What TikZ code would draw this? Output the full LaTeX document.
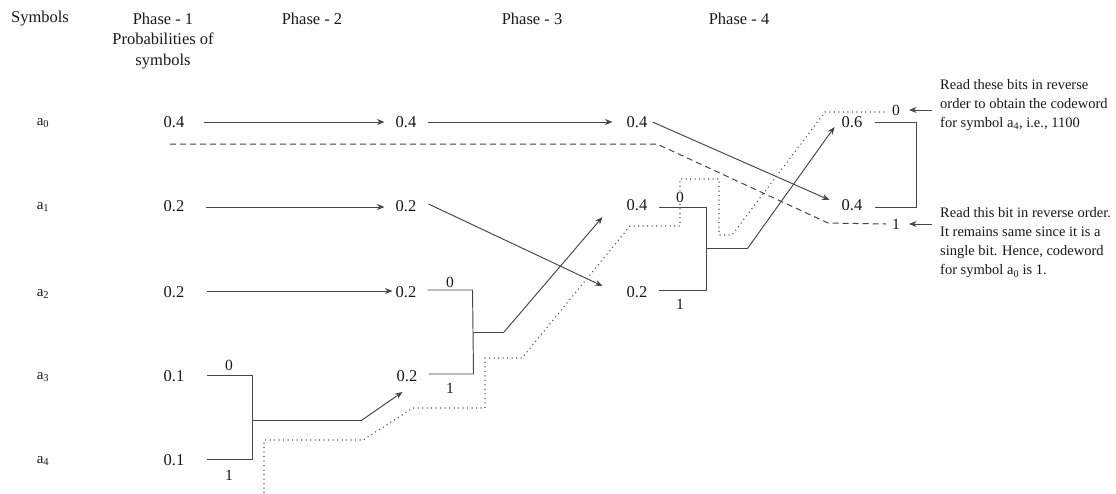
\documentclass[tikz,border=0pt]{standalone}
\usepackage{fontspec}
\setmainfont{Liberation Serif}
\usetikzlibrary{arrows.meta,calc,backgrounds}
\definecolor{lc}{RGB}{70,70,70}
\definecolor{txt}{RGB}{25,25,25}
\begin{document}
\begin{tikzpicture}[x=1pt,y=-1pt,
  every node/.style={inner sep=0pt, text=txt},
  hdr/.style={font=\fontsize{16.5}{20.5}\selectfont, align=center},
  sym/.style={font=\fontsize{15}{18}\selectfont},
  val/.style={font=\fontsize{16.5}{20}\selectfont},
  bit/.style={font=\fontsize{15.5}{18}\selectfont, fill=white, inner sep=1pt},
  note/.style={font=\fontsize{14.5}{19.2}\selectfont, align=left, anchor=north west},
  ln/.style={draw=lc, line width=0.95pt},
  arr/.style={ln, -{Stealth[length=7.5pt,width=6pt]}},
  dotp/.style={draw=lc, line width=1.1pt, dash pattern=on 1pt off 3.5pt},
  dshp/.style={draw=lc, line width=1pt, dash pattern=on 6pt off 4pt},
]
\useasboundingbox (0,0) rectangle (1116,493);

% headers
\node[hdr] (hs) at (40,19) {Symbols};
\node[hdr] (h1) at (163,41) {Phase - 1\\Probabilities of\\symbols};
\node[hdr] (h2) at (312,19) {Phase - 2};
\node[hdr] (h3) at (532,19) {Phase - 3};
\node[hdr] (h4) at (739,19) {Phase - 4};

% symbols
\node[sym] (s0) at (43,123) {a\textsubscript{0}};
\node[sym] (s1) at (43,207) {a\textsubscript{1}};
\node[sym] (s2) at (43,294) {a\textsubscript{2}};
\node[sym] (s3) at (43,377) {a\textsubscript{3}};
\node[sym] (s4) at (43,461) {a\textsubscript{4}};

% phase 1
\node[val] (p1a) at (174,122) {0.4};
\node[val] (p1b) at (174,206) {0.2};
\node[val] (p1c) at (174,292) {0.2};
\node[val] (p1d) at (174,376) {0.1};
\node[val] (p1e) at (174,460) {0.1};
% phase 2
\node[val] (p2a) at (406,122) {0.4};
\node[val] (p2b) at (406,206) {0.2};
\node[val] (p2c) at (406,292) {0.2};
\node[val] (p2d) at (407,376) {0.2};
% phase 3
\node[val] (p3a) at (637,122) {0.4};
\node[val] (p3b) at (637,205) {0.4};
\node[val] (p3c) at (637,292) {0.2};
% phase 4
\node[val] (p4a) at (852,122) {0.6};
\node[val] (p4b) at (852,205) {0.4};

% bits
\node[bit] (b1a) at (229,365) {0};
\node[bit] (b1b) at (229,475) {1};
\node[bit] (b2a) at (450,282) {0};
\node[bit] (b2b) at (450,388) {1};
\node[bit] (b3a) at (680,197) {0};
\node[bit] (b3b) at (680,304) {1};
\node[bit] (b4a) at (896,110) {0};
\node[bit] (b4b) at (896,224) {1};

% notes
\node[note] (t1) at (940,79) {Read these bits in reverse\\order to obtain the codeword\\for symbol a\textsubscript{4}, i.e., 1100};
\node[note] (t2) at (940,207) {Read this bit in reverse order.\\It remains same since it is a\\single bit. Hence, codeword\\for symbol a\textsubscript{0} is 1.};

% straight arrows
\draw[arr] ($(p1a.east)+(19,0)$) -- ($(p2a.west)+(-11,0)$);
\draw[arr] ($(p2a.east)+(11,0)$) -- ($(p3a.west)+(-14,0)$);
\draw[arr] ($(p1b.east)+(21,1)$) -- ($(p2b.west)+(-11,1)$);
\draw[arr] ($(p1c.east)+(22,-1)$) -- ($(p2c.west)+(-3,-1)$);
\draw[arr] ($(p3a.east)+(5,0)$) -- ($(p4b.west)+(-12,-5)$);
\draw[arr] ($(p2b.east)+(12,-2)$) -- ($(p3c.west)+(-24,-6)$);

% phase 1 merge
\draw[ln] ($(p1d.east)+(22,-1)$) -- ++(46,0) coordinate (j1a)
  -- ($(p1e.east)+(68,-1)$) coordinate (j1b) -- ++(-46,0);
\coordinate (m1) at ($(j1a)!0.54!(j1b)$);
\draw[ln] (m1) -- ++(109,0) coordinate (k1);
\draw[arr] (k1) -- ($(p2d.west)+(6,16)$);

% phase 2 merge
\draw[ln] ($(p2c.east)+(11,-2)$) -- ++(45,0) coordinate (j2a)
  -- ($(p2d.east)+(56,-2)$) coordinate (j2b) -- ++(-45,0);
\coordinate (m2) at ($(j2a)!0.5!(j2b)$);
\draw[ln] (m2) -- ++(31,0) coordinate (k2);
\draw[arr] (k2) -- ($(p3b.west)+(-24,12)$);

% phase 3 merge
\draw[ln] ($(p3b.east)+(11,2)$) -- ++(48,0) coordinate (j3a)
  -- ($(p3c.east)+(59,-2)$) coordinate (j3b) -- ++(-48,0);
\coordinate (m3) at ($(j3a)!0.5!(j3b)$);
\draw[ln] (m3) -- ++(41,0) coordinate (k3);
\draw[arr] (k3) -- ($(p4a.west)+(-7,5)$);

% phase 4 bracket
\draw[ln] ($(p4a.east)+(12,0)$) -| ($(p4b.east)+(54,2)$) -- ($(p4b.east)+(12,2)$);

% note arrows
\draw[arr, shorten <=8pt, shorten >=8pt] (t1.west |- b4a.center) -- (b4a.east);
\draw[arr, shorten <=8pt, shorten >=8pt] (t2.west |- b4b.center) -- (b4b.east);

\begin{scope}[on background layer]
\fill[white] (0,0) rectangle (1116,493);
\draw[dshp] (170,144) -- (657,144) -- (828,223) -- ($(b4b.west)+(-5,0)$);
\draw[dotp] (264,493) -- (264,440) -- (363,440) -- (413,408) -- (485,408)
  -- (485,358) -- (522,358) -- (630,226) -- (680,226) -- (680,179)
  -- (719,179) -- (719,235) -- (732,235) -- (825,112) -- ($(b4a.west)+(-3,2)$);
\end{scope}
\end{tikzpicture}
\end{document}
